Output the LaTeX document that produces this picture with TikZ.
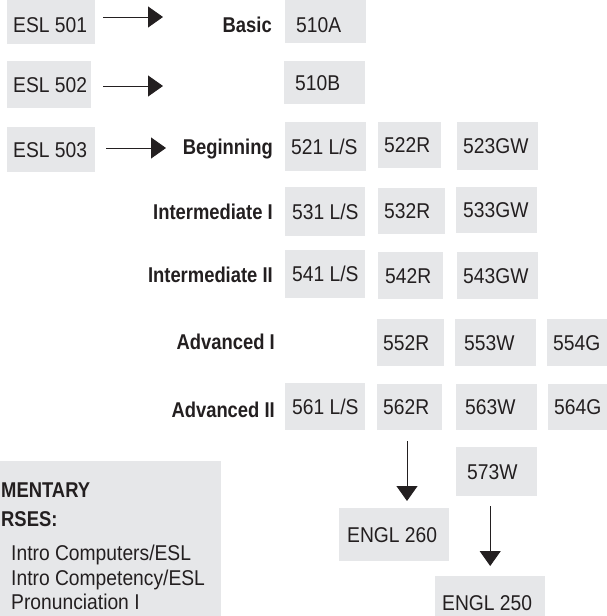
\documentclass[tikz,border=0pt]{standalone}
\usepackage{fontspec}
\setmainfont[FakeStretch=0.9, BoldFeatures={FakeStretch=0.86}]{Liberation Sans}
\usetikzlibrary{arrows.meta}
\definecolor{boxgray}{HTML}{E6E7E9}
\definecolor{txt}{HTML}{231F20}
\newcommand{\lft}[2]{\makebox[#1pt][l]{#2}}
\tikzset{
  box/.style={fill=boxgray, inner ysep=0pt, anchor=north west,
    text height=15.3pt, text depth=0pt, text=txt},
  topcut/.style={text height=21.3pt},
  lab/.style={font=\bfseries, anchor=east, inner sep=0pt, text height=15.6pt, text depth=0pt, text=txt},
  plain/.style={anchor=west, inner sep=0pt, text height=15.3pt, text depth=0pt, text=txt},
  arr/.style={draw=txt, line width=1pt, -{Triangle[length=15pt,width=21pt]}}
}
\begin{document}
\begin{tikzpicture}[x=1pt,y=-1pt]
\fontsize{21.4pt}{25pt}\selectfont
\useasboundingbox (0,0) rectangle (606,616);
% left column
\node[box, topcut, inner xsep=6pt, minimum height=44pt] (e501) at (7,0) {\lft{76}{ESL 501}};
\node[box, inner xsep=6pt, minimum height=47pt] (e502) at (7,61) {\lft{72}{ESL 502}};
\node[box, inner xsep=6pt, minimum height=45pt] (e503) at (7,127) {\lft{76}{ESL 503}};
% level labels
\node[lab] (lbasic) at (272,25) {Basic};
\node[lab] (lbeg) at (273,147) {Beginning};
\node[lab] (lint1) at (273,212) {Intermediate I};
\node[lab] (lint2) at (273,275) {Intermediate II};
\node[lab] (ladv1) at (275,342) {Advanced I};
\node[lab] (ladv2) at (275,410) {Advanced II};
% course boxes
\node[box, topcut, inner xsep=11pt, minimum height=43pt] (b510a) at (285,0) {\lft{59}{510A}};
\node[box, inner xsep=11pt, minimum height=43pt] (b510b) at (284,61) {\lft{59}{510B}};
\node[box, inner xsep=6pt, minimum height=49pt] (c521) at (285,122) {\lft{69}{521 L/S}};
\node[box, inner xsep=6pt, minimum height=46pt] (c522) at (378,122) {\lft{51}{522R}};
\node[box, inner xsep=6pt, minimum height=48pt] (c523) at (457,122) {\lft{69}{523GW}};
\node[box, inner xsep=7pt, minimum height=49pt] (c531) at (285,187) {\lft{66}{531 L/S}};
\node[box, inner xsep=6pt, minimum height=46pt] (c532) at (378,188) {\lft{55}{532R}};
\node[box, inner xsep=7pt, minimum height=46pt] (c533) at (456,187) {\lft{67}{533GW}};
\node[box, inner xsep=7pt, minimum height=48pt] (c541) at (285,250) {\lft{66}{541 L/S}};
\node[box, inner xsep=7pt, minimum height=47pt] (c542) at (378,252) {\lft{51}{542R}};
\node[box, inner xsep=6pt, minimum height=47pt] (c543) at (457,252) {\lft{69}{543GW}};
\node[box, inner xsep=6pt, minimum height=47pt] (c552) at (377,319) {\lft{55}{552R}};
\node[box, inner xsep=9pt, minimum height=47pt] (c553) at (455,319) {\lft{63}{553W}};
\node[box, inner xsep=6pt, minimum height=47pt] (c554) at (547,319) {\lft{69}{554G}};
\node[box, inner xsep=7pt, minimum height=47pt] (c561) at (285,383) {\lft{66}{561 L/S}};
\node[box, inner xsep=6pt, minimum height=46pt] (c562) at (377,384) {\lft{53}{562R}};
\node[box, inner xsep=9pt, minimum height=46pt] (c563) at (456,384) {\lft{63}{563W}};
\node[box, inner xsep=6pt, minimum height=46pt] (c564) at (548,384) {\lft{69}{564G}};
\node[box, inner xsep=11pt, minimum height=49pt] (c573) at (456,447) {\lft{59}{573W}};
\node[box, inner xsep=8pt, minimum height=53pt] (e260) at (339,508) {\lft{94}{ENGL 260}};
\node[box, inner xsep=7pt, minimum height=53pt] (e250) at (435,576) {\lft{96}{ENGL 250}};
% complementary box
\node[fill=boxgray, anchor=north west, inner sep=0pt, minimum width=231pt, minimum height=170pt] (comp) at (-10,461) {};
\node[lab, anchor=west] (ct1) at (1,490) {MENTARY};
\node[lab, anchor=west] (ct2) at (1,519) {RSES:};
\node[plain] (li1) at (11,553) {Intro Computers/ESL};
\node[plain] (li2) at (11,578) {Intro Competency/ESL};
\node[plain] (li3) at (11,602) {Pronunciation I};
% arrows
\coordinate (a1) at (163,17);
\coordinate (a2) at (163,86);
\coordinate (a3) at (166,148);
\draw[arr, shorten <=8pt] (e501.east |- a1) -- (a1);
\draw[arr, shorten <=12pt] (e502.east |- a2) -- (a2);
\draw[arr, shorten <=11pt] (e503.east |- a3) -- (a3);
\coordinate (d1) at (407,441);
\draw[arr, shorten >=7pt] (d1) -- (d1 |- e260.north);
\draw[arr, shorten <=10pt, shorten >=10pt] (e250.north |- c573.south) -- (e250.north);
\end{tikzpicture}
\end{document}
